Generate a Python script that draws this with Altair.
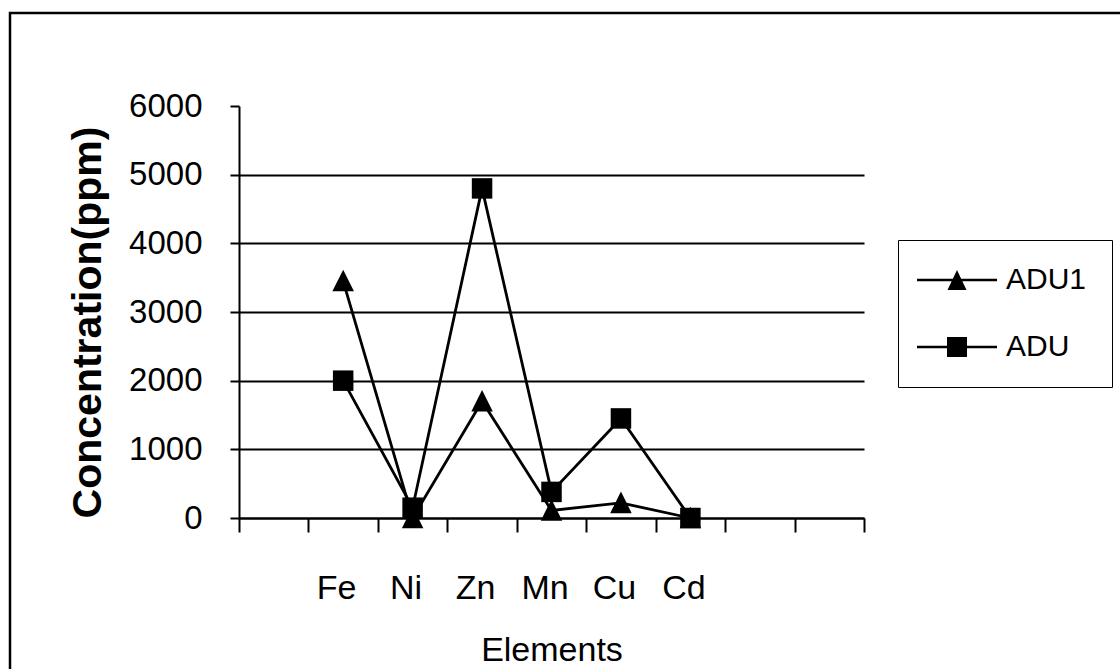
import altair as alt
import pandas as pd

# ---- data ----
categories = ["", "Fe", "Ni", "Zn", "Mn", "Cu", "Cd", " ", "  "]
elements = ["Fe", "Ni", "Zn", "Mn", "Cu", "Cd"]
adu1 = [3450, 0, 1700, 110, 220, 0]
adu = [2000, 150, 4800, 380, 1450, 0]
series_names = ["ADU1", "ADU"]
y_ticks = [0, 1000, 2000, 3000, 4000, 5000, 6000]

rows = []
for name, vals in zip(series_names, [adu1, adu]):
    for e, v in zip(elements, vals):
        rows.append({"element": e, "value": v, "series": name})
df = pd.DataFrame(rows)

W, H = 625, 412
FONT = "Liberation Sans"

tri_path = "M0,-1.1L1.05,1H-1.05Z"
sq_path = "M-1,-1H1V1H-1Z"
# legend symbols: a line through the marker, shifted right inside the legend box
leg_tri = "M-2.1,-0.13H5.9V0.13H-2.1ZM1.9,-1L2.85,1H0.95Z"
leg_sq = "M-2.1,-0.13H5.9V0.13H-2.1ZM0.9,-1H2.9V1H0.9Z"

x_enc = alt.X(
    "element:N",
    scale=alt.Scale(type="band", domain=categories, paddingInner=0, paddingOuter=0),
    axis=alt.Axis(
        title="Elements", labelAngle=0, tickBand="extent", tickSize=14, tickWidth=2,
        tickColor="black", domainColor="black", domainWidth=2, grid=False,
        labelFont=FONT, labelFontSize=34, labelColor="black", labelPadding=39,
        labelOffset=-7, titleFont=FONT, titleFontSize=34, titleFontWeight="normal",
        titleColor="black", titleBaseline="alphabetic", titleY=142,
    ),
)
y_enc = alt.Y(
    "value:Q",
    scale=alt.Scale(domain=[0, 6000], nice=False, zero=True),
    axis=alt.Axis(
        title="Concentration(ppm)", values=y_ticks, format="d", tickSize=9, tickWidth=2,
        tickColor="black", domainColor="black", domainWidth=2,
        labelFont=FONT, labelFontSize=33, labelColor="black", labelPadding=28,
        grid=True, gridColor="black", gridWidth=2,
        gridOpacity={"condition": {"test": "datum.value >= 6000", "value": 0}, "value": 1},
        titleFont=FONT, titleFontSize=41, titleFontWeight="bold", titleColor="black",
        titleAngle=270, titleX=-151, titleY=216, titleBaseline="middle", titleAlign="center",
    ),
)

frame = alt.Chart(alt.Data(values=[{}])).mark_rect(
    filled=False, stroke="black", strokeWidth=2.5
).encode(
    x=alt.value(-229), x2=alt.value(W + 300), y=alt.value(-93), y2=alt.value(H + 300)
)

lines = alt.Chart(df).mark_line(color="black", strokeWidth=2.8).encode(
    x=x_enc, y=y_enc, detail="series:N"
)

points = alt.Chart(df).mark_point(
    filled=True, color="black", opacity=1, size=420
).encode(
    x=x_enc, y=y_enc,
    shape=alt.Shape("series:N", scale=alt.Scale(domain=series_names, range=[tri_path, sq_path]), legend=None),
)

legend_layer = alt.Chart(df).mark_point(
    filled=True, color="black", opacity=1, size=400
).encode(
    shape=alt.Shape(
        "series:N",
        scale=alt.Scale(domain=series_names, range=[leg_tri, leg_sq]),
        legend=alt.Legend(
            title=None, orient="none", legendX=659, legendY=134,
            symbolSize=400, symbolFillColor="black", symbolStrokeColor="black",
            symbolStrokeWidth=0, symbolOpacity=1,
            labelFont=FONT, labelFontSize=30, labelColor="black", labelOffset=53,
            padding=25, rowPadding=37, strokeColor="black", fillColor="white",
        ),
    ),
).transform_filter("false")

chart = alt.layer(frame, lines, points, legend_layer).resolve_scale(
    shape="independent"
).properties(
    width=W, height=H,
    autosize=alt.AutoSizeParams(type="none"),
    padding={"left": 239, "top": 106, "right": 256, "bottom": 151},
    background="white",
).configure_view(stroke=None)

chart.save("out.html", embed_options={"renderer": "svg", "actions": False})
